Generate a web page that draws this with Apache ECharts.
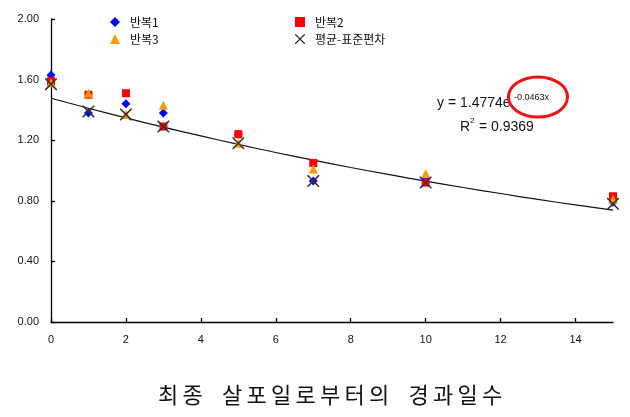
<!DOCTYPE html>
<html>
<head>
<meta charset="utf-8">
<script src="https://cdn.jsdelivr.net/npm/echarts@6/dist/echarts.min.js"></script>
<style>
html,body{margin:0;padding:0;background:#fff;}
#c{width:630px;height:417px;}
</style>
</head>
<body>
<div id="c"></div>
<script>
var days = [0, 1, 2, 3, 5, 7, 10, 15];
var rep1 = [1.63, 1.38, 1.44, 1.38, 1.24, 0.93, 0.95, 0.79];
var rep2 = [1.59, 1.50, 1.51, 1.29, 1.24, 1.05, 0.92, 0.83];
var rep3 = [1.58, 1.51, 1.37, 1.43, 1.18, 1.01, 0.98, 0.81];
var meanMinusSd = [1.57, 1.39, 1.37, 1.29, 1.18, 0.93, 0.92, 0.78];
var trendX = [0, 1, 2, 3, 4, 5, 6, 7, 8, 9, 10, 11, 12, 13, 14, 15];
var trendY = [1.477, 1.411, 1.347, 1.286, 1.228, 1.172, 1.119, 1.069, 1.020, 0.974, 0.930, 0.888, 0.848, 0.809, 0.773, 0.738];
var xTicks = [0, 2, 4, 6, 8, 10, 12, 14];
var seriesNames = ['반복1', '반복2', '반복3', '평균-표준편차'];
var xTitle = '최종 살포일로부터의 경과일수';
var eqMain = 'y = 1.4774e';
var eqExp = '-0.0463x';
var r2Text = ' = 0.9369';

function pairs(xs, ys) { return xs.map(function (x, i) { return [x, ys[i]]; }); }

// title drawn glyph by glyph to reproduce the wide letter spacing
function titleGraphics(str, startX, y) {
  var out = [], x = startX, pitch = 24.5, spaceExtra = 15;
  for (var i = 0; i < str.length; i++) {
    var ch = str.charAt(i);
    if (ch === ' ') { x += spaceExtra; continue; }
    out.push({ type: 'text', x: x, y: y, style: { text: ch, font: '22px Noto Sans CJK KR', fill: '#111', align: 'center', verticalAlign: 'middle' } });
    x += pitch;
  }
  return out;
}

var xPath = 'path://M0,0L0.9,0L5,4.1L9.1,0L10,0L10,0.9L5.9,5L10,9.1L10,10L9.1,10L5,5.9L0.9,10L0,10L0,9.1L4.1,5L0,0.9Z';
var font = 'Liberation Sans, Arial, sans-serif';
var chart = echarts.init(document.getElementById('c'));
chart.setOption({
  animation: false,
  backgroundColor: '#fff',
  grid: { left: 51, right: 17, top: 19, bottom: 95, containLabel: false },
  legend: [
    { data: [seriesNames[0], seriesNames[2]], orient: 'vertical', left: 110, top: 16, padding: 0,
      itemWidth: 10, itemHeight: 10, itemGap: 5,
      textStyle: { fontSize: 12, color: '#111', fontFamily: 'Noto Sans CJK KR', padding: [0, 0, 0, 5] } },
    { data: [seriesNames[1], seriesNames[3]], orient: 'vertical', left: 295, top: 16, padding: 0,
      itemWidth: 10, itemHeight: 10, itemGap: 5,
      textStyle: { fontSize: 12, color: '#111', fontFamily: 'Noto Sans CJK KR', padding: [0, 0, 0, 5] } }
  ],
  xAxis: {
    type: 'value', min: 0, max: 15, interval: 2,
    axisLine: { show: true, onZero: false, lineStyle: { color: '#000', width: 1.3 } },
    axisTick: { show: true, inside: true, length: 4, customValues: xTicks, lineStyle: { color: '#000', width: 1.3 } },
    axisLabel: { customValues: xTicks, margin: 12, fontSize: 11, color: '#111', fontFamily: font },
    splitLine: { show: false }
  },
  yAxis: {
    type: 'value', min: 0, max: 2, interval: 0.4,
    axisLine: { show: true, lineStyle: { color: '#000', width: 1.3 } },
    axisTick: { show: true, inside: true, length: 4, lineStyle: { color: '#000', width: 1.3 } },
    axisLabel: { margin: 12, fontSize: 11, color: '#111', fontFamily: font,
      formatter: function (v) { return v.toFixed(2); } },
    splitLine: { show: false }
  },
  series: [
    { name: 'trend', type: 'line', data: pairs(trendX, trendY), smooth: true, symbol: 'none', silent: true,
      lineStyle: { color: '#111', width: 1.2 }, z: 1 },
    { name: seriesNames[0], type: 'scatter', data: pairs(days, rep1), symbol: 'diamond', symbolSize: 9,
      itemStyle: { color: '#0000ff', opacity: 1 }, z: 2 },
    { name: seriesNames[1], type: 'scatter', data: pairs(days, rep2), symbol: 'rect', symbolSize: 8,
      itemStyle: { color: '#ff0000', opacity: 1 }, z: 3 },
    { name: seriesNames[2], type: 'scatter', data: pairs(days, rep3), symbol: 'triangle', symbolSize: 9,
      itemStyle: { color: '#ff9900', opacity: 1 }, z: 4 },
    { name: seriesNames[3], type: 'scatter', data: pairs(days, meanMinusSd), symbol: xPath, symbolSize: 12,
      itemStyle: { color: '#333', opacity: 1 }, z: 5 }
  ],
  graphic: [
    { type: 'text', left: 437, top: 96, style: { text: eqMain, font: '14px Liberation Sans', fill: '#111' } },
    { type: 'text', left: 514, top: 93, style: { text: eqExp, font: '9px Liberation Sans', fill: '#111' } },
    { type: 'text', left: 460, top: 120, style: { text: 'R', font: '14px Liberation Sans', fill: '#111' } },
    { type: 'text', left: 470, top: 117, style: { text: '2', font: '8px Liberation Sans', fill: '#111' } },
    { type: 'text', left: 475, top: 120, style: { text: r2Text, font: '14px Liberation Sans', fill: '#111' } },
    { type: 'ellipse', shape: { cx: 538, cy: 97, rx: 29.5, ry: 20 }, style: { fill: 'none', stroke: '#ee1111', lineWidth: 3 } }
  ].concat(titleGraphics(xTitle, 168, 395))
});
</script>
</body>
</html>
